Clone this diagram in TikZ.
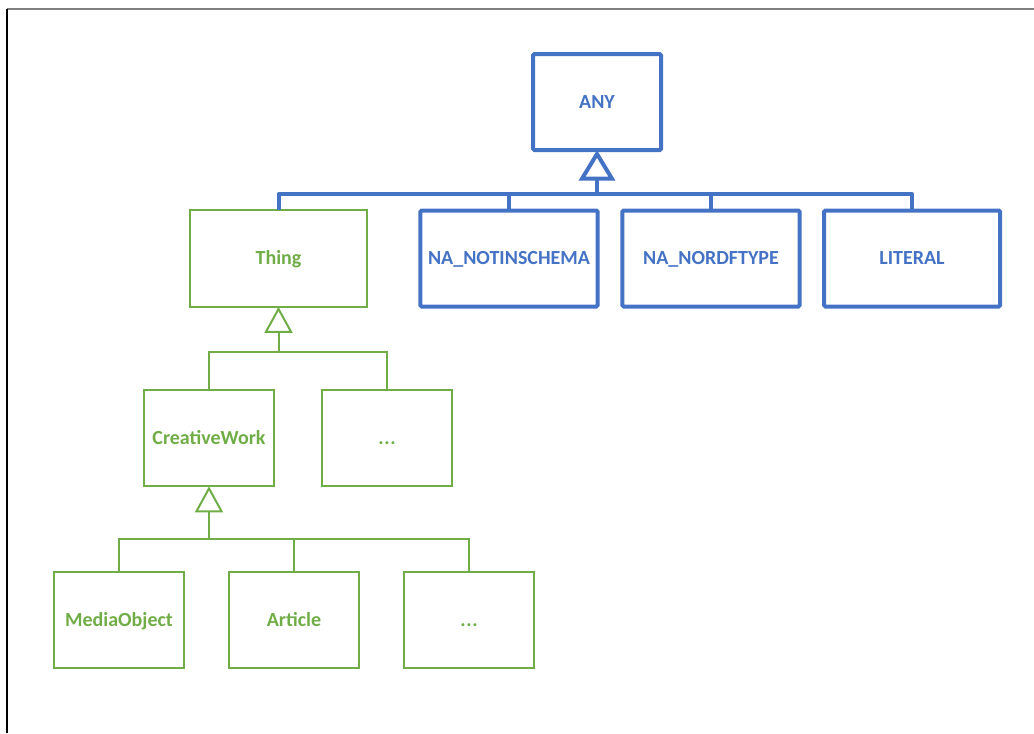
\documentclass[tikz,border=0pt]{standalone}
\usepackage{fontspec}
\setmainfont{Carlito}
\usetikzlibrary{arrows.meta}
\definecolor{umlblue}{HTML}{4472C4}
\definecolor{umlgreen}{HTML}{70AD47}
\definecolor{framegray}{HTML}{808080}
\tikzset{
  boxtext/.style={font=\fontsize{15pt}{18pt}\selectfont\bfseries,
    text height=13pt, text depth=4pt},
  bluebox/.style={boxtext, draw=umlblue, line width=3pt, text=umlblue, rounded corners=1pt,
    minimum height=72pt, inner sep=0pt, outer sep=0pt},
  greenbox/.style={boxtext, draw=umlgreen, line width=1.5pt, text=umlgreen,
    minimum width=97pt, minimum height=72.5pt, inner sep=0pt, outer sep=0pt},
  blueline/.style={draw=umlblue, line width=3pt, line join=round},
  greenline/.style={draw=umlgreen, line width=1.5pt},
  bluegen/.style={blueline, -{Triangle[open, length=23pt, width=27pt]}},
  greengen/.style={greenline, -{Triangle[open, length=19.5pt, width=21pt]}}
}
\newcommand{\dotsmark}{.\kern0.5pt.\kern0.5pt.}
\begin{document}
\begin{tikzpicture}[x=0.75pt, y=-0.75pt]
  \useasboundingbox (0,0) rectangle (1034,733);
  % page frame
  \draw[framegray, line width=2pt] (7,9) -- (1034,9);
  \draw[black, line width=0.9pt] (7,9) -- (7,733);

  % top level
  \node[bluebox, minimum width=96pt] (any) at (597,102) {ANY};
  \node[greenbox, minimum width=133pt] (thing) at (278.5,258.5) {Thing};
  \node[bluebox, minimum width=133pt] (nanot) at (509,258.5) {NA\_NOTINSCHEMA};
  \node[bluebox, minimum width=133pt] (nordf) at (711,258.5) {NA\_NORDFTYPE};
  \node[bluebox, minimum width=132pt] (literal) at (912,258.5) {LITERAL};

  % second level
  \node[greenbox] (cwork) at (209,438) {CreativeWork};
  \node[greenbox] (more1) at (387,438) {\dotsmark};

  % third level
  \node[greenbox] (media) at (119,620) {MediaObject};
  \node[greenbox] (article) at (294,620) {Article};
  \node[greenbox] (more2) at (469,620) {\dotsmark};

  % generalisation to ANY
  \coordinate (anybus) at (any.south |- 0,194);
  \draw[blueline] (thing.north) |- (anybus) -| (literal.north);
  \draw[blueline] (nanot.north) -- (nanot.north |- anybus);
  \draw[blueline] (nordf.north) -- (nordf.north |- anybus);
  \draw[bluegen] (anybus) -- (any.south);

  % generalisation to Thing
  \coordinate (thingbus) at (thing.south |- 0,352);
  \draw[greenline] (cwork.north) |- (thingbus) -| (more1.north);
  \draw[greengen] (thingbus) -- (thing.south);

  % generalisation to CreativeWork
  \coordinate (cworkbus) at (cwork.south |- 0,539);
  \draw[greenline] (media.north) |- (cworkbus) -| (more2.north);
  \draw[greenline] (article.north) -- (article.north |- cworkbus);
  \draw[greengen] (cworkbus) -- (cwork.south);
\end{tikzpicture}
\end{document}
